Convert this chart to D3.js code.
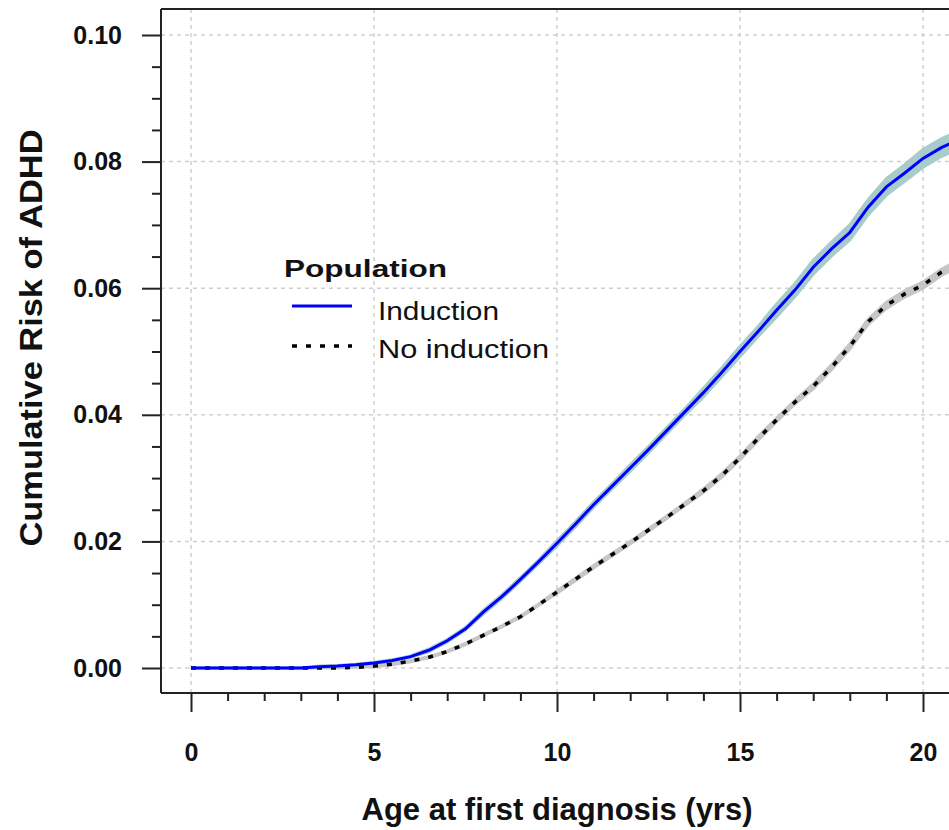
<!DOCTYPE html>
<html>
<head>
<meta charset="utf-8">
<script src="https://cdn.jsdelivr.net/npm/d3@7"></script>
<style>
  body { margin: 0; background: #fff; }
  svg { display: block; font-family: "Liberation Sans", Arial, sans-serif; }
</style>
</head>
<body>
<svg width="949" height="830"></svg>
<script>
// values
var ages = [0,0.5,1,1.5,2,2.5,3,3.5,4,4.5,5,5.5,6,6.5,7,7.5,8,8.5,9,9.5,10,10.5,11,11.5,12,12.5,13,13.5,14,14.5,15,15.5,16,16.5,17,17.5,18,18.5,19,19.5,20,20.5,21];
var induction = [0,0,0,0,0,0,0,0.0002,0.0003,0.0005,0.0008,0.0012,0.0018,0.0028,0.0043,0.0062,0.0089,0.0113,0.0140,0.0168,0.0197,0.0227,0.0258,0.0287,0.0316,0.0345,0.0375,0.0405,0.0435,0.0467,0.0500,0.0532,0.0565,0.0597,0.0633,0.0662,0.0688,0.0728,0.0760,0.0782,0.0805,0.0822,0.0835];
var inductionLo = [0,0,0,0,0,0,0,0.0001,0.0002,0.0004,0.0007,0.0011,0.0017,0.0026,0.0041,0.0060,0.0086,0.0110,0.0137,0.0165,0.0193,0.0223,0.0254,0.0283,0.0311,0.0340,0.0370,0.0400,0.0428,0.0460,0.0492,0.0524,0.0555,0.0587,0.0622,0.0651,0.0676,0.0716,0.0747,0.0769,0.0791,0.0808,0.0821];
var inductionHi = [0,0,0,0,0,0,0,0.0003,0.0004,0.0006,0.0009,0.0013,0.0019,0.0030,0.0045,0.0064,0.0092,0.0116,0.0143,0.0171,0.0201,0.0231,0.0262,0.0291,0.0321,0.0350,0.0380,0.0410,0.0442,0.0474,0.0508,0.0540,0.0575,0.0607,0.0644,0.0673,0.0700,0.0740,0.0773,0.0795,0.0819,0.0836,0.0849];
var noInduction = [0,0,0,0,0,0,0,0,0,0.0001,0.0003,0.0006,0.0011,0.0017,0.0026,0.0038,0.0052,0.0066,0.0081,0.0100,0.0120,0.0140,0.0160,0.0179,0.0198,0.0218,0.0238,0.0259,0.0280,0.0304,0.0332,0.0363,0.0392,0.0420,0.0445,0.0475,0.0508,0.0547,0.0573,0.0591,0.0605,0.0625,0.0640];
var noInductionLo = [0,0,0,0,0,0,0,0,0,0.0001,0.0002,0.0005,0.0010,0.0016,0.0025,0.0037,0.0051,0.0065,0.0080,0.0099,0.0118,0.0138,0.0158,0.0177,0.0196,0.0216,0.0236,0.0257,0.0277,0.0301,0.0329,0.0360,0.0389,0.0417,0.0441,0.0471,0.0504,0.0543,0.0568,0.0586,0.0600,0.0620,0.0635];
var noInductionHi = [0,0,0,0,0,0,0,0,0,0.0001,0.0004,0.0007,0.0012,0.0018,0.0027,0.0039,0.0053,0.0067,0.0082,0.0101,0.0122,0.0142,0.0162,0.0181,0.0200,0.0220,0.0240,0.0261,0.0283,0.0307,0.0335,0.0366,0.0395,0.0423,0.0449,0.0479,0.0512,0.0551,0.0578,0.0596,0.0610,0.0630,0.0645];

var xMajor = [0, 5, 10, 15, 20];
var xMinor = [1,2,3,4,6,7,8,9,11,12,13,14,16,17,18,19,21];
var yMajor = [0, 0.02, 0.04, 0.06, 0.08, 0.10];
var yMinor = [0.005,0.01,0.015,0.025,0.03,0.035,0.045,0.05,0.055,0.065,0.07,0.075,0.085,0.09,0.095];
var legendLabels = ["Induction", "No induction"];

var svg = d3.select("svg"),
    width = +svg.attr("width"),
    height = +svg.attr("height");

// plot frame (right side runs off the picture)
var frame = {left: 161, top: 9, bottom: 693, right: width + 20};

var x = d3.scaleLinear().domain([0, 20]).range([191, 923]);
var y = d3.scaleLinear().domain([0, 0.10]).range([668, 35]);

svg.append("defs").append("clipPath").attr("id", "plotclip")
    .append("rect")
    .attr("x", frame.left).attr("y", frame.top)
    .attr("width", frame.right - frame.left).attr("height", frame.bottom - frame.top);

// grid
var grid = svg.append("g").attr("class", "grid")
    .attr("stroke", "#cfcfcf").attr("stroke-width", 1.5).attr("stroke-dasharray", "4,4");
grid.selectAll("line.gx").data(xMajor).enter().append("line")
    .attr("x1", function(d) { return x(d); }).attr("x2", function(d) { return x(d); })
    .attr("y1", frame.top).attr("y2", frame.bottom);
grid.selectAll("line.gy").data(yMajor).enter().append("line")
    .attr("y1", function(d) { return y(d); }).attr("y2", function(d) { return y(d); })
    .attr("x1", frame.left).attr("x2", frame.right);

var rows = ages.map(function(a, i) {
    return {age: a, ind: induction[i], indLo: inductionLo[i], indHi: inductionHi[i],
            noind: noInduction[i], noLo: noInductionLo[i], noHi: noInductionHi[i]};
});

var plot = svg.append("g").attr("clip-path", "url(#plotclip)");

// confidence bands
plot.append("path").datum(rows)
    .attr("fill", "#c6c6c6").attr("stroke", "#c6c6c6").attr("stroke-width", 3)
    .attr("d", d3.area()
        .x(function(d) { return x(d.age); })
        .y0(function(d) { return y(d.noLo); })
        .y1(function(d) { return y(d.noHi); }));
plot.append("path").datum(rows)
    .attr("fill", "#a8cccc").attr("stroke", "#a8cccc").attr("stroke-width", 3)
    .attr("d", d3.area()
        .x(function(d) { return x(d.age); })
        .y0(function(d) { return y(d.indLo); })
        .y1(function(d) { return y(d.indHi); }));

// curves
plot.append("path").datum(rows)
    .attr("fill", "none").attr("stroke", "#000").attr("stroke-width", 3.5)
    .attr("stroke-dasharray", "5,9")
    .attr("d", d3.line()
        .x(function(d) { return x(d.age); })
        .y(function(d) { return y(d.noind); }));
plot.append("path").datum(rows)
    .attr("fill", "none").attr("stroke", "#0000ff").attr("stroke-width", 3)
    .attr("d", d3.line()
        .x(function(d) { return x(d.age); })
        .y(function(d) { return y(d.ind); }));

// frame lines
var frameG = svg.append("g").attr("stroke", "#222").attr("stroke-width", 2);
frameG.append("line").attr("x1", frame.left).attr("x2", frame.left).attr("y1", frame.top).attr("y2", frame.bottom);
frameG.append("line").attr("x1", frame.left).attr("x2", frame.right).attr("y1", frame.top).attr("y2", frame.top);
frameG.append("line").attr("x1", frame.left).attr("x2", frame.right).attr("y1", frame.bottom).attr("y2", frame.bottom);

// axes
var yAxis = svg.append("g").attr("transform", "translate(" + frame.left + ",0)")
    .call(d3.axisLeft(y).tickValues(yMajor).tickSize(19).tickPadding(20).tickFormat(d3.format(".2f")));
var yAxisMinor = svg.append("g").attr("transform", "translate(" + frame.left + ",0)")
    .call(d3.axisLeft(y).tickValues(yMinor).tickSize(9).tickFormat(""));
var xAxis = svg.append("g").attr("transform", "translate(0," + frame.bottom + ")")
    .call(d3.axisBottom(x).tickValues(xMajor).tickSize(19).tickPadding(31).tickFormat(d3.format("d")));
var xAxisMinor = svg.append("g").attr("transform", "translate(0," + frame.bottom + ")")
    .call(d3.axisBottom(x).tickValues(xMinor).tickSize(8).tickFormat(""));

[yAxis, yAxisMinor, xAxis, xAxisMinor].forEach(function(g) {
    g.select(".domain").remove();
    g.selectAll(".tick line").attr("stroke", "#222").attr("stroke-width", 2);
    g.selectAll(".tick text").attr("font-size", 25).attr("font-weight", "bold")
        .attr("font-family", "Liberation Sans, Arial, sans-serif").attr("fill", "#111");
});

// axis titles
svg.append("text")
    .attr("x", 557).attr("y", 820)
    .attr("text-anchor", "middle")
    .attr("font-size", 31).attr("font-weight", "bold").attr("fill", "#111")
    .attr("textLength", 391).attr("lengthAdjust", "spacingAndGlyphs")
    .text("Age at first diagnosis (yrs)");
svg.append("text")
    .attr("transform", "translate(42,338) rotate(-90)")
    .attr("text-anchor", "middle")
    .attr("font-size", 32).attr("font-weight", "bold").attr("fill", "#111")
    .attr("textLength", 417).attr("lengthAdjust", "spacingAndGlyphs")
    .text("Cumulative Risk of ADHD");

// legend
var legend = svg.append("g").attr("class", "legend");
legend.append("text")
    .attr("x", 284).attr("y", 277)
    .attr("font-size", 24).attr("font-weight", "bold").attr("fill", "#111")
    .attr("textLength", 163).attr("lengthAdjust", "spacingAndGlyphs")
    .text("Population");
legend.append("line")
    .attr("x1", 292).attr("x2", 352).attr("y1", 306).attr("y2", 306)
    .attr("stroke", "#0000ff").attr("stroke-width", 3);
legend.append("line")
    .attr("x1", 292).attr("x2", 352).attr("y1", 346).attr("y2", 346)
    .attr("stroke", "#000").attr("stroke-width", 3.5).attr("stroke-dasharray", "5,9");
legend.selectAll("text.item").data(legendLabels).enter().append("text")
    .attr("class", "item")
    .attr("x", 378).attr("y", function(d, i) { return 320 + i * 38; })
    .attr("font-size", 25).attr("fill", "#111")
    .attr("textLength", function(d, i) { return i === 0 ? 121 : 171; })
    .attr("lengthAdjust", "spacingAndGlyphs")
    .text(function(d) { return d; });
</script>
</body>
</html>
